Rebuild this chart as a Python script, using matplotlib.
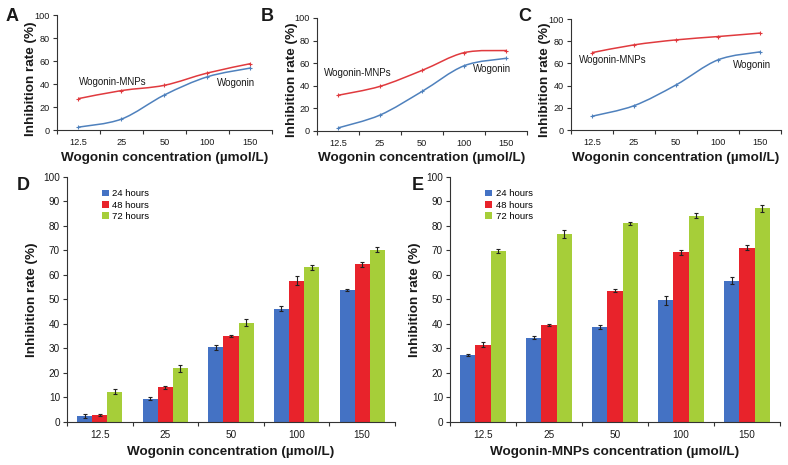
import numpy as np
import matplotlib
matplotlib.use("Agg")
import matplotlib.pyplot as plt
from matplotlib.path import Path
from matplotlib.patches import PathPatch

plt.rcParams['font.family'] = ['Liberation Sans', 'DejaVu Sans']

# --- dados ---
concentracoes = ["12.5", "25", "50", "100", "150"]
horas = ["24 hours", "48 hours", "72 hours"]

# Wogonin livre (painel D)
wog_24 = [2.5, 9.5, 30.5, 46.3, 53.9]
wog_48 = [2.7, 14.1, 35.0, 57.7, 64.3]
wog_72 = [12.4, 21.9, 40.6, 63.2, 70.4]
wog_err_24 = [0.8, 0.7, 1.0, 1.2, 0.3]
wog_err_48 = [0.4, 0.7, 0.5, 1.8, 1.0]
wog_err_72 = [0.9, 1.5, 1.3, 1.0, 1.1]

# Wogonin-MNPs (painel E)
mnp_24 = [27.3, 34.3, 38.9, 49.6, 57.7]
mnp_48 = [31.6, 39.5, 53.6, 69.3, 71.2]
mnp_72 = [69.7, 76.7, 81.2, 84.2, 87.3]
mnp_err_24 = [0.3, 0.6, 0.8, 1.7, 1.5]
mnp_err_48 = [1.0, 0.4, 0.7, 1.1, 1.0]
mnp_err_72 = [0.8, 1.7, 0.6, 1.0, 1.4]

cor_barras = ["#4472C4", "#E8232B", "#A6CE39"]
cor_azul = "#4F81BD"
cor_verm = "#E03A3E"
TXT = "#1a1a1a"
FS_LABEL = 9.7


def curva_suave(ax, xs, ys, cor):
    """Curva suave tipo Excel (Bezier pelos pontos)."""
    p = np.column_stack([xs, ys]).astype(float)
    ext = np.vstack([p[0], p, p[-1]])
    verts = [p[0]]
    codes = [Path.MOVETO]
    for i in range(len(p) - 1):
        a, b, c, d = ext[i], ext[i + 1], ext[i + 2], ext[i + 3]
        verts += [b + (c - a) / 6.0, c - (d - b) / 6.0, c]
        codes += [Path.CURVE4] * 3
    ax.add_patch(PathPatch(Path(verts, codes), fill=False, edgecolor=cor, lw=1.1))
    ax.plot(xs, ys, ls='none', marker='+', ms=3.5, mew=0.8, color=cor)


def estilo_eixo(ax, ymax, passo, fs_tick):
    for s in ["top", "right"]:
        ax.spines[s].set_visible(False)
    for s in ["left", "bottom"]:
        ax.spines[s].set_color("#333333")
        ax.spines[s].set_linewidth(0.8)
    n = len(concentracoes)
    ax.set_xlim(-0.5, n - 0.5)
    ax.set_ylim(0, ymax)
    ax.set_yticks(np.arange(0, ymax + 1, passo))
    ax.set_xticks(np.arange(-0.5, n, 1.0))
    ax.set_xticklabels([])
    ax.set_xticks(np.arange(n), minor=True)
    ax.set_xticklabels(concentracoes, minor=True)
    ax.tick_params(axis='x', which='minor', length=0, pad=6, labelsize=fs_tick, colors=TXT)
    ax.tick_params(axis='x', which='major', length=3, width=0.8, color="#333333")
    ax.tick_params(axis='y', length=3, width=0.8, pad=2, labelsize=fs_tick, color="#333333", labelcolor=TXT)


fig = plt.figure(figsize=(7.88, 4.65), dpi=100)


def letra_painel(px, py, letra):
    fig.text(px / 788, 1 - py / 465, letra, fontsize=13, fontweight='bold', va='top', color=TXT)


# --- paineis de linha A, B, C ---
posicoes = [[0.0723, 0.7204, 0.2728, 0.2473],
            [0.4023, 0.7183, 0.2665, 0.2430],
            [0.7246, 0.7204, 0.2665, 0.2387]]
livre = [wog_24, wog_48, wog_72]
nano = [mnp_24, mnp_48, mnp_72]
letras = [("A", 6), ("B", 261), ("C", 518)]
rotulos = [((0.0, 42), (3.66, 41)), ((-0.33, 51), (3.67, 55)), ((-0.31, 63), (3.8, 59))]

x = np.arange(len(concentracoes))
for pos, yw, ym, (letra, lx), (pm, pw) in zip(posicoes, livre, nano, letras, rotulos):
    ax = fig.add_axes(pos)
    estilo_eixo(ax, 100, 20, 6.6)
    curva_suave(ax, x, ym, cor_verm)
    curva_suave(ax, x, yw, cor_azul)
    ax.text(pm[0], pm[1], "Wogonin-MNPs", fontsize=7, ha='left', va='center', color=TXT)
    ax.text(pw[0], pw[1], "Wogonin", fontsize=7, ha='center', va='center', color=TXT)
    ax.set_xlabel("Wogonin concentration (\u00b5mol/L)", fontsize=FS_LABEL, fontweight='bold', labelpad=3, color=TXT)
    ax.set_ylabel("Inhibition rate (%)", fontsize=FS_LABEL, fontweight='bold', color=TXT)
    ax.yaxis.set_label_coords(-19.5 / (pos[2] * 788), 0.45)
    letra_painel(lx, 8, letra)

# --- paineis de barras D, E ---
pos_barras = [[0.0850, 0.0925, 0.4162, 0.5269],
              [0.5711, 0.0925, 0.4188, 0.5269]]
dados_barras = [([wog_24, wog_48, wog_72], [wog_err_24, wog_err_48, wog_err_72]),
                ([mnp_24, mnp_48, mnp_72], [mnp_err_24, mnp_err_48, mnp_err_72])]
xlabels = ["Wogonin concentration (\u00b5mol/L)", "Wogonin-MNPs concentration (\u00b5mol/L)"]
letras_b = [("D", 17), ("E", 412)]
largura = 0.23

for pos, (series, erros), xl, (letra, lx) in zip(pos_barras, dados_barras, xlabels, letras_b):
    ax = fig.add_axes(pos)
    estilo_eixo(ax, 100, 10, 7.2)
    for k, (vals, err) in enumerate(zip(series, erros)):
        ax.bar(x + (k - 1) * largura, vals, largura, color=cor_barras[k], label=horas[k],
               yerr=err, error_kw=dict(ecolor="#222222", elinewidth=0.8, capsize=1.5, capthick=0.8))
    ax.set_xlabel(xl, fontsize=FS_LABEL, fontweight='bold', labelpad=4, color=TXT)
    ax.set_ylabel("Inhibition rate (%)", fontsize=FS_LABEL, fontweight='bold', color=TXT)
    ax.yaxis.set_label_coords(-29 / (pos[2] * 788), 0.5)
    ax.legend(loc='upper left', bbox_to_anchor=(0.095, 0.965), frameon=False, fontsize=6.8,
              handlelength=0.7, handleheight=0.7, handletextpad=0.4, labelspacing=0.25, borderaxespad=0)
    letra_painel(lx, 177, letra)

fig.savefig("out.png", dpi=100)
